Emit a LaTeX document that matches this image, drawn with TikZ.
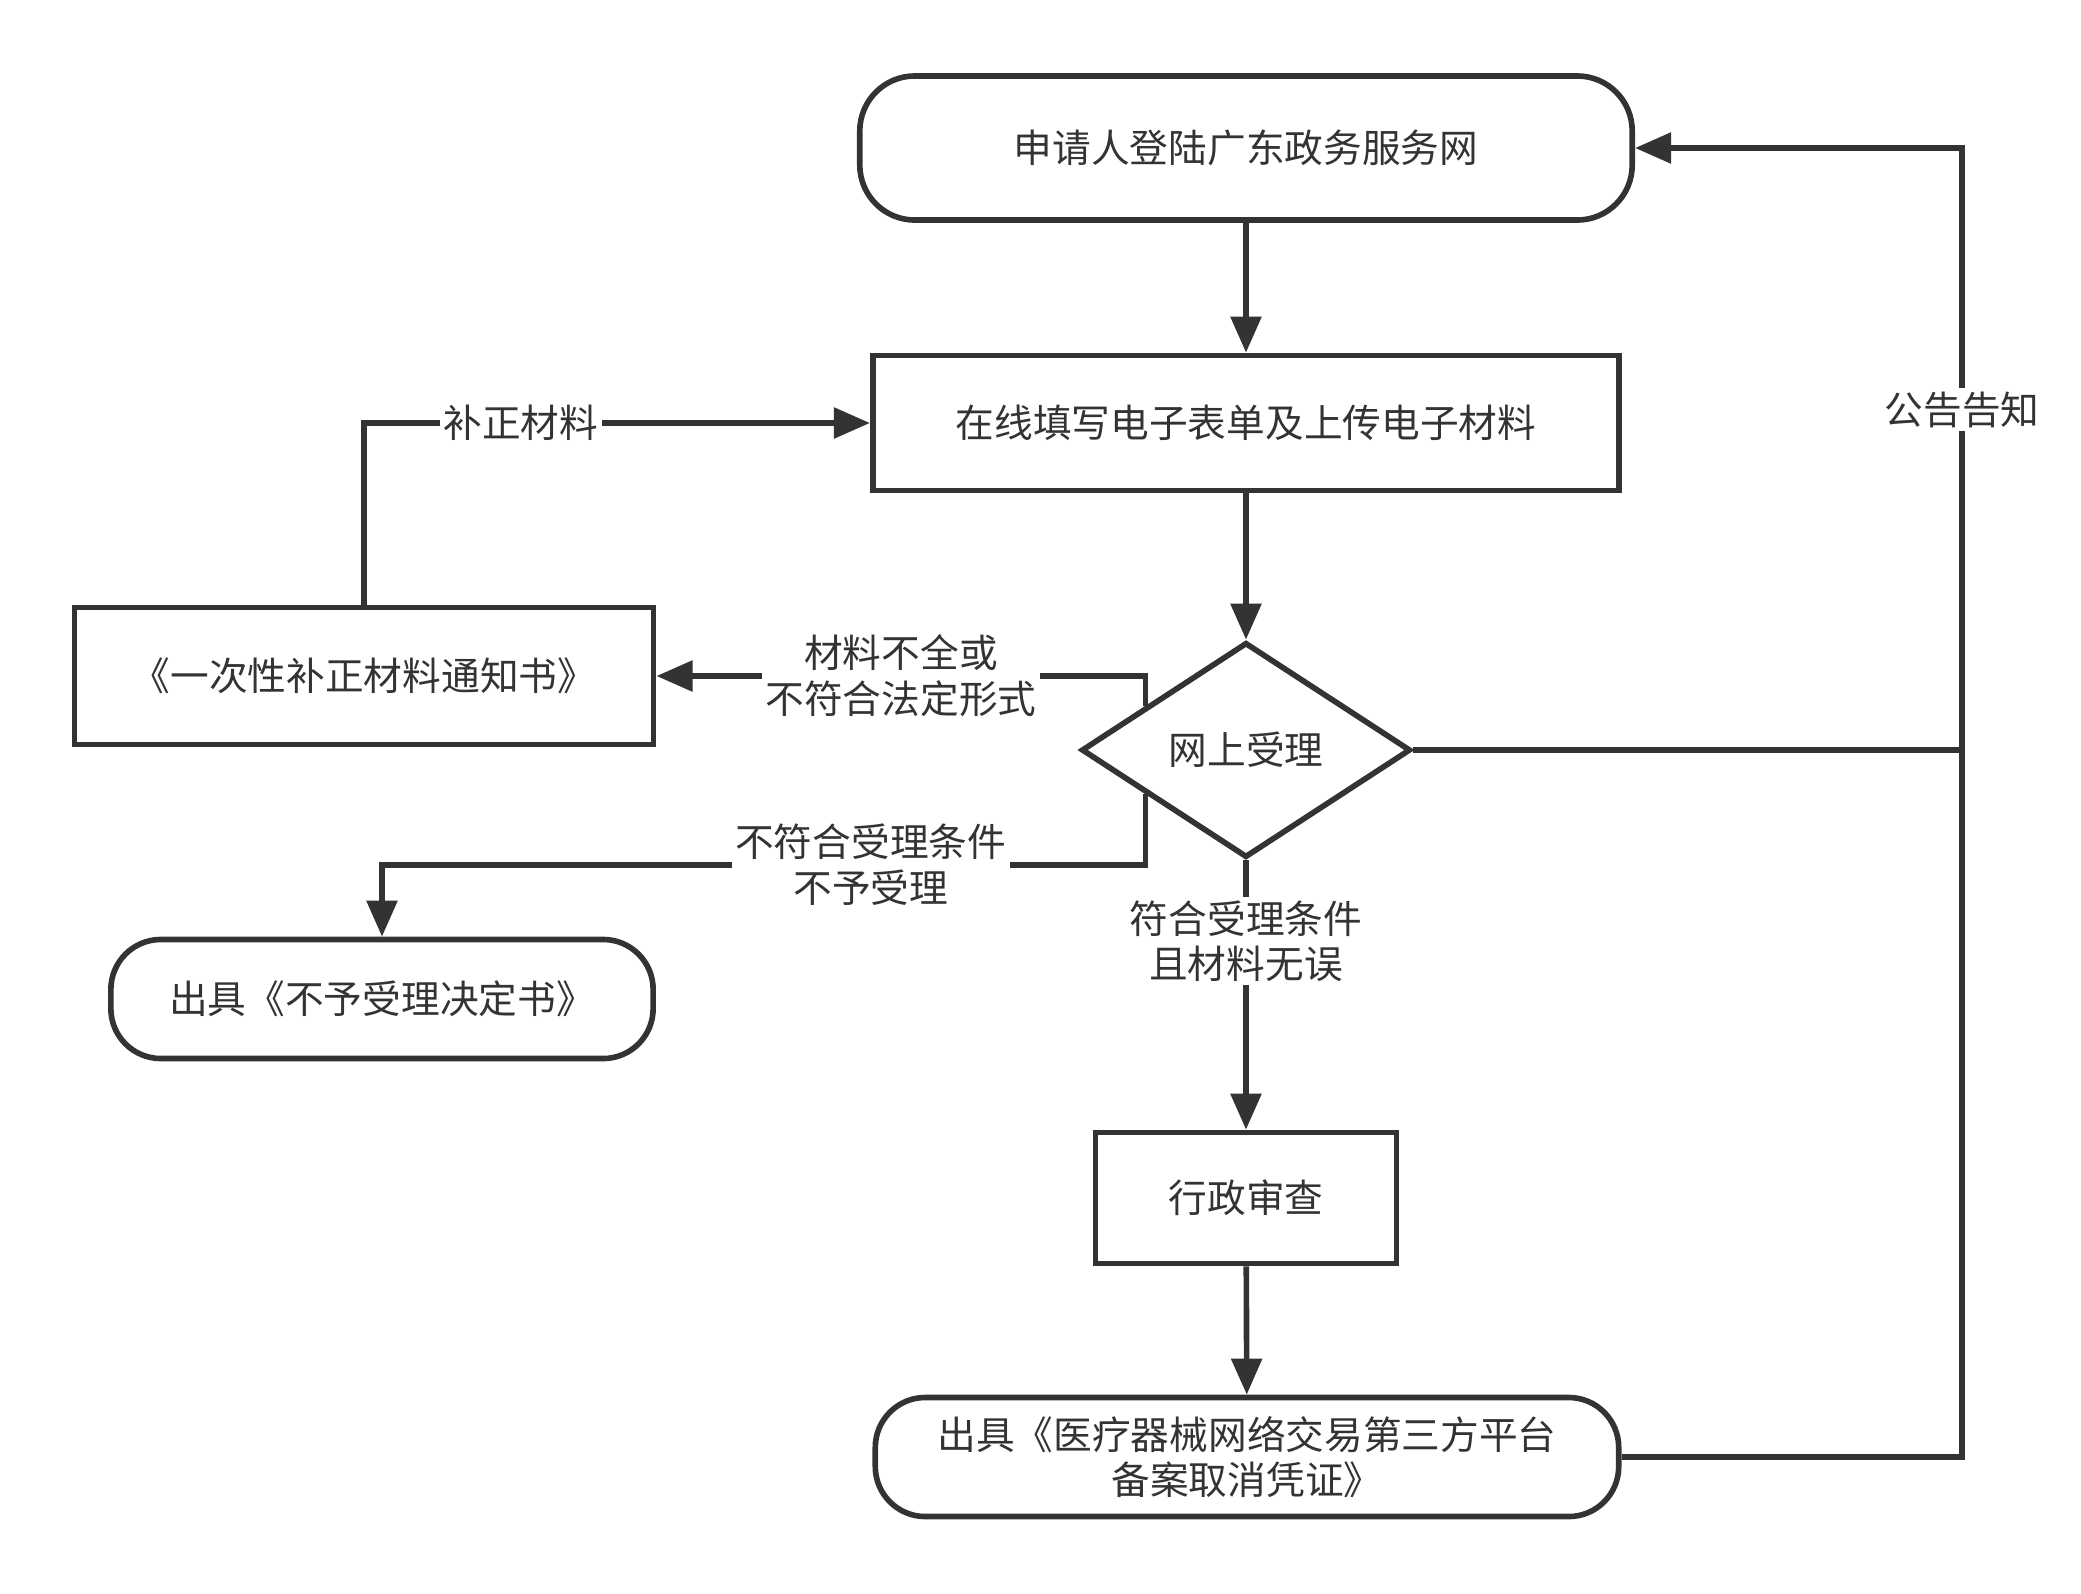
\documentclass[tikz,border=0pt]{standalone}
\usepackage{fontspec}
\setmainfont{Noto Sans CJK SC}
\usetikzlibrary{arrows.meta,shapes.geometric,calc}
\definecolor{ln}{HTML}{333333}
\begin{document}
\begin{tikzpicture}[x=0.01cm,y=-0.01cm,
  base/.style={draw=ln,line width=1.6pt,text=ln,font=\fontsize{11}{13}\selectfont,inner sep=0pt,align=center},
  procbox/.style={base,rectangle},
  termbox/.style={base,rectangle,rounded corners=0.55cm},
  decbox/.style={base,diamond,aspect=1.5},
  conn/.style={draw=ln,line width=1.6pt},
  arr/.style={conn,-{Triangle[length=0.36cm,width=0.3cm]}},
  lbl/.style={fill=white,text=ln,font=\fontsize{11}{13}\selectfont,inner sep=1pt,align=center}]
\useasboundingbox (0,0) rectangle (2081,1593);

\node[termbox,minimum width=7.72cm,minimum height=1.44cm] (n1) at (1246,148) {申请人登陆广东政务服务网};
\node[procbox,minimum width=7.46cm,minimum height=1.35cm] (n2) at (1246,423) {在线填写电子表单及上传电子材料};
\node[decbox,minimum width=3.29cm,minimum height=2.15cm] (d) at (1246,750) {网上受理};
\node[procbox,minimum width=5.79cm,minimum height=1.37cm] (n3) at (364,676) {《一次性补正材料通知书》};
\node[termbox,rounded corners=0.5cm,minimum width=5.42cm,minimum height=1.19cm] (n4) at (382,999) {出具《不予受理决定书》};
\node[procbox,minimum width=3.01cm,minimum height=1.31cm] (n5) at (1246,1198) {行政审查};
\node[termbox,rounded corners=0.5cm,minimum width=7.43cm,minimum height=1.19cm] (n6) at (1247,1457) {出具《医疗器械网络交易第三方平台\\备案取消凭证》};

\coordinate (s1) at ($(d.west)!0.4!(d.north)$);
\coordinate (s2) at ($(d.west)!0.4!(d.south)$);
\coordinate (k2) at (s2 |- 0,865);
\coordinate (j) at (1962,750);
\coordinate (k3) at (1962,1457);

\draw[arr] (n1) -- (n2);
\draw[arr] (n2) -- (d);
\draw[arr] (d) -- node[lbl,pos=0.3]{符合受理条件\\且材料无误} (n5);
\draw[arr] (n5) -- (n6);
\draw[arr] (s1) |- node[lbl,pos=0.75]{材料不全或\\不符合法定形式} (n3);
\draw[arr] (s2) -- (k2) -| node[lbl,pos=0.18]{不符合受理条件\\不予受理} (n4);
\draw[arr] (n3) |- node[lbl,pos=0.655]{补正材料} (n2);
\draw[conn] (d.east) -- (j);
\draw[arr] (n6) -- (k3) |- node[lbl,pos=0.4]{公告告知} (n1);
\end{tikzpicture}
\end{document}
